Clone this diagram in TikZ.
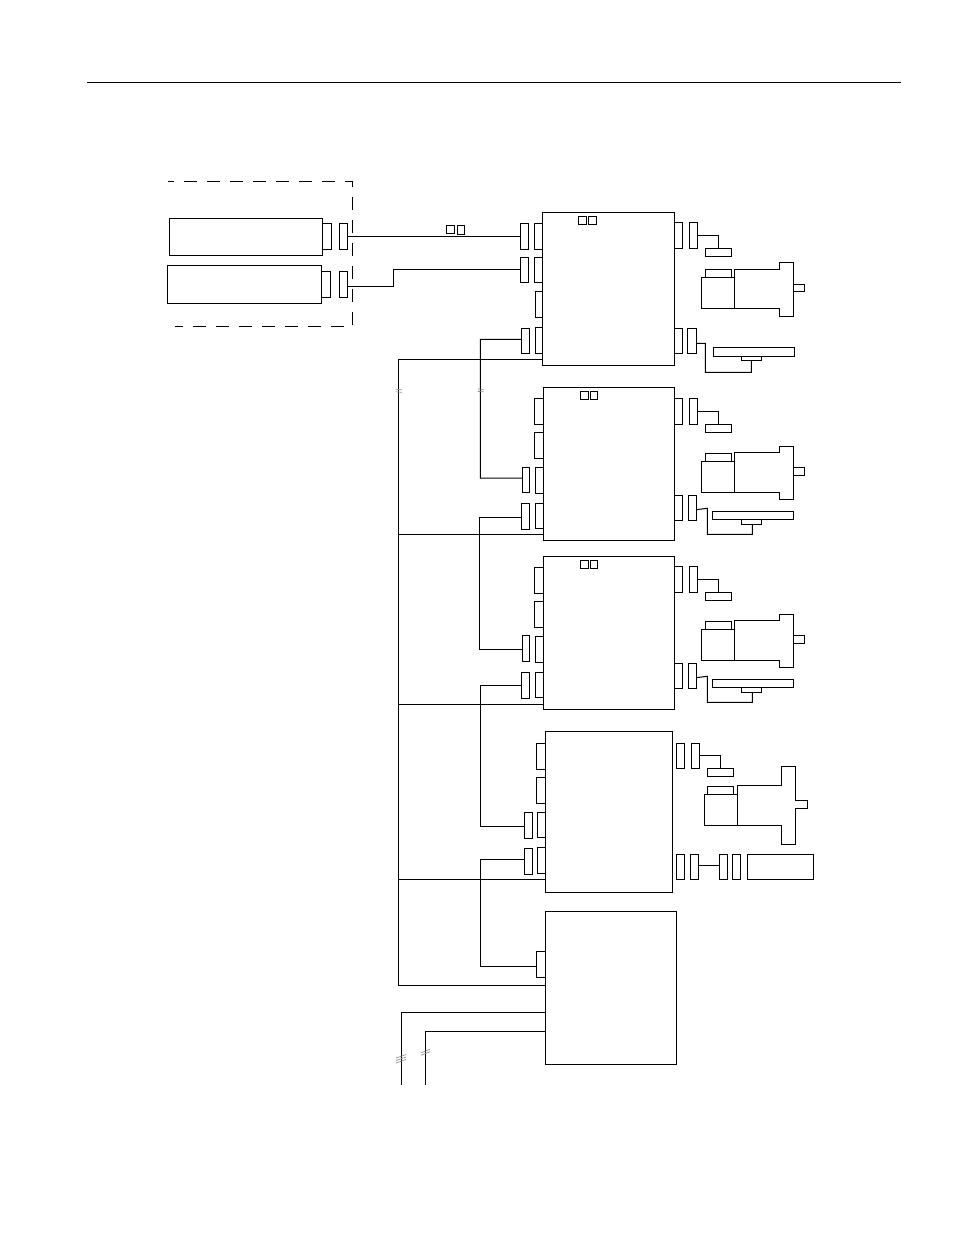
\documentclass[tikz,border=0pt]{standalone}
\usepackage{tikz}
\usetikzlibrary{calc}
\tikzset{
  box/.style={draw,inner sep=0pt,outer sep=0pt},
  brk/.style={black!45,line width=0.5pt}
}
% block given by its corners, in pixels of the page
\newcommand{\bx}[5]{\node[box,minimum width={((#4)-(#2))*0.75pt},minimum height={((#5)-(#3))*0.75pt}] (#1) at ({((#2)+(#4))/2},{((#3)+(#5))/2}) {};}
\begin{document}
\begin{tikzpicture}[x=0.75pt,y=-0.75pt,line width=0.75pt]
\useasboundingbox (0,0) rectangle (954,1235);
\coordinate (ruleL) at (87,82.3);
\coordinate (ruleR) at (901,82.3);
\draw (ruleL) -- (ruleR);
% cabinet
\draw[dash pattern=on 9.75pt off 7.5pt,dash phase=5.25pt] (168,181.3) -- (352.3,181.3) -- (352.3,326.3) -- (175,326.3);
\bx{psuA}{169.3}{218.3}{322.3}{255.3}
\bx{psuB}{167.3}{265.3}{321.3}{303.3}
\bx{plugA}{322.3}{223.3}{331.5}{249.3}
\bx{plugB}{321.3}{271.3}{330.3}{297.3}
\bx{sockA}{339.3}{223.3}{347.3}{249.3}
\bx{sockB}{339.3}{271.3}{347.3}{297.3}
\bx{tagA}{446.3}{225.7}{454.3}{233.3}
\bx{tagB}{457.3}{225.7}{464.7}{234}
% first drive
\bx{driveA}{542.3}{212.3}{674.3}{365}
\bx{driveAs}{578.3}{216.3}{586.3}{224.3}
\bx{driveAt}{588.3}{216.3}{596.3}{224.3}
\bx{driveAl}{534.3}{223.3}{542.3}{249.3}
\bx{driveAm}{534.3}{257.3}{542.3}{282.3}
\bx{driveAn}{535.3}{291.3}{542.3}{317.3}
\bx{driveAo}{535.3}{327.3}{542.3}{353.3}
\bx{leadAl}{520.3}{223.3}{528.7}{249.3}
\bx{leadAm}{520.3}{257.3}{528.7}{282.3}
\bx{leadAo}{521.3}{328.3}{529.3}{353.3}
\bx{driveAr}{674.3}{222.3}{682.7}{248.3}
\bx{leadAr}{689.3}{222.3}{697.7}{248.3}
\bx{barA}{705.3}{248.3}{731.3}{256.3}
\bx{driveAq}{674.3}{328.3}{682.7}{353.3}
\bx{leadAq}{687.3}{328.3}{696.3}{353.3}
\bx{scaleA}{713.3}{347.3}{794.3}{356.3}
\bx{slideA}{741.3}{356.3}{761.3}{360.7}
\bx{capA}{705.3}{269.3}{731.3}{277.3}
\bx{encA}{701.3}{277.3}{734.3}{308.3}
\draw (encA.north east) -- (734.3,269.3) -- (779,269.3) -- (779,262.3) -- (793.3,262.3) -- (793.3,316.3) -- (779,316.3) -- (779,308.3) -- (encA.south east);
\bx{shaftA}{793.3}{284.3}{804.7}{291.3}
\draw (leadAr.east) -| (barA.north);
\draw ([yshift=-1.9pt]leadAq.east) -- (705.3,343.3) |- (751.3,372.3) -- (slideA.south);
% second and third drive
\foreach \m/\dy/\dz in {B/0/0,C/168.7/168}{
\bx{drive\m}{543.3}{387.3+\dy}{674.3}{540.3+\dy}
\bx{drive\m s}{580.3}{391.3+\dy}{588.3}{399.3+\dy}
\bx{drive\m t}{590.3}{391.3+\dy}{597.7}{399.3+\dy}
\bx{drive\m l}{534.3}{398.3+\dy}{543.3}{424.3+\dy}
\bx{drive\m m}{534.3}{432.3+\dy}{543.3}{458.3+\dy}
\bx{drive\m n}{535.3}{467.3+\dy}{543.3}{493.3+\dy}
\bx{drive\m o}{535.3}{503.3+\dy}{543.3}{528.3+\dy}
\bx{lead\m n}{522}{467+\dy}{529.7}{492.3+\dy}
\bx{lead\m o}{521.3}{503.3+\dy}{529.7}{529.3+\dy}
\bx{drive\m r}{674.3}{398.3+\dz}{682.7}{424.3+\dz}
\bx{lead\m r}{689.3}{398.3+\dz}{697.7}{424.3+\dz}
\bx{bar\m}{705.3}{424.3+\dz}{731.3}{432.3+\dz}
\bx{drive\m q}{674.3}{495.3+\dz}{682.7}{520.3+\dz}
\bx{lead\m q}{688.3}{495.3+\dz}{696.3}{520.3+\dz}
\bx{scale\m}{712.3}{511.3+\dz}{793.3}{519.3+\dz}
\bx{slide\m}{741.3}{519.3+\dz}{761.3}{524.3+\dz}
\bx{cap\m}{705.3}{453.3+\dz}{731.3}{461.3+\dz}
\bx{enc\m}{701.3}{461.3+\dz}{734.3}{492.3+\dz}
\draw (enc\m.north east) -- (734.3,452.3+\dz) -- (779,452.3+\dz) -- (779,446.3+\dz) -- (793.3,446.3+\dz) -- (793.3,499.3+\dz) -- (779,499.3+\dz) -- (779,492.3+\dz) -- (enc\m.south east);
\bx{shaft\m}{793.3}{467.3+\dz}{804.7}{475.3+\dz}
\draw (lead\m r.east) -| (bar\m.north);
\draw ([yshift=-1.4pt]lead\m q.east) -- (707.3,508.3+\dz) |- (752.3,534.3+\dz) -- ([xshift=0.75pt]slide\m.south);
}
% fourth drive
\bx{driveD}{545.3}{731.3}{672.3}{892.3}
\bx{driveDl}{536.3}{743.3}{545.3}{769.3}
\bx{driveDm}{536.3}{777.3}{545.3}{803.3}
\bx{driveDn}{537.3}{812.3}{545.3}{837.3}
\bx{driveDo}{537.3}{847.3}{545.3}{873.3}
\bx{leadDn}{524.3}{812.3}{532.3}{838.3}
\bx{leadDo}{524.3}{848.3}{532.3}{874.3}
\bx{driveDr}{676.3}{743.3}{684.3}{768.3}
\bx{leadDr}{691.3}{743.3}{699.3}{768.3}
\bx{barD}{707.3}{768.3}{733.3}{776.3}
\bx{capD}{707.3}{786.3}{733.3}{794.3}
\bx{encD}{704.3}{794.3}{737.3}{825.3}
\draw (encD.north east) -- (737.3,785.3) -- (781.3,785.3) -- (781.3,766.3) -- (795.3,766.3) -- (795.3,800.3) -- (807.3,800.3) -- (807.3,808.3) -- (795.3,808.3) -- (795.3,844.3) -- (781.3,844.3) -- (781.3,825.3) -- (encD.south east);
\bx{driveDq}{676.3}{854.3}{684.3}{879.3}
\bx{leadDq}{690.3}{854.3}{698.3}{879.3}
\bx{leadDs}{719.3}{854.3}{727.3}{879.3}
\bx{leadDt}{732.3}{854.3}{740.3}{879.3}
\bx{panelD}{747.3}{854.3}{813.3}{879.3}
\draw (leadDr.east) -| (barD.north);
\draw ([yshift=1pt]leadDq.east) -- ([yshift=1pt]leadDs.west);
% supply
\bx{supply}{545.3}{911.3}{676.3}{1064.3}
\bx{supplyl}{536.3}{951.3}{545.3}{977}
% wiring
\draw (sockA.east) -- (leadAl.west);
\draw ([yshift=-1.5pt]sockB.east) -- (393.3,286.3) |- (leadAm.west);
\draw ([yshift=1.1pt]leadAo.west) -- (480.3,339.3) |- ([yshift=1.2pt]leadBn.west);
\draw ([yshift=-0.75pt]leadBo.west) -- (479.3,517.3) |- ([yshift=-0.5pt]leadCn.west);
\draw (leadCo.west) -- (480.3,685) |- ([yshift=-0.75pt]leadDn.west);
\draw ([yshift=1.5pt]leadDo.west) -- (480.3,859.3) |- ([yshift=-1.6pt]supplyl.west);
\coordinate (busA) at (398.3,359.3);
\coordinate (busB) at (398.3,534.3);
\coordinate (busC) at (398.3,704.3);
\coordinate (busD) at (398.3,879.3);
\coordinate (busE) at (398.3,985);
\draw (busE) -- (busA) -- (busA -| driveA.west);
\draw (busB) -- (busB -| driveB.west);
\draw (busC) -- (busC -| driveC.west);
\draw (busD) -- (busD -| driveD.west);
\draw (busE) -- (busE -| supply.west);
\coordinate (feedA) at (401.3,1012.3);
\coordinate (feedB) at (425.3,1031.3);
\coordinate (endA) at (401.3,1084.7);
\coordinate (endB) at (425.3,1084.7);
\draw (feedA -| supply.west) -- (feedA) -- (endA);
\draw (feedB -| supply.west) -- (feedB) -- (endB);
% breaks in the lines
\foreach \cx/\cy in {398.8/390.8,481/390.4}{
\draw[brk] (\cx-3,\cy-1.5) -- (\cx+3,\cy-1);
\draw[brk] (\cx-3,\cy+1) -- (\cx+3,\cy+1.5);
}
\foreach \cy in {-2.5,0,2.5}{\draw[brk] (396,1060.5+\cy) -- (406,1057+\cy);}
\foreach \cy in {-1.2,1.2}{\draw[brk] (421,1054+\cy) -- (430,1050.5+\cy);}
\end{tikzpicture}
\end{document}
